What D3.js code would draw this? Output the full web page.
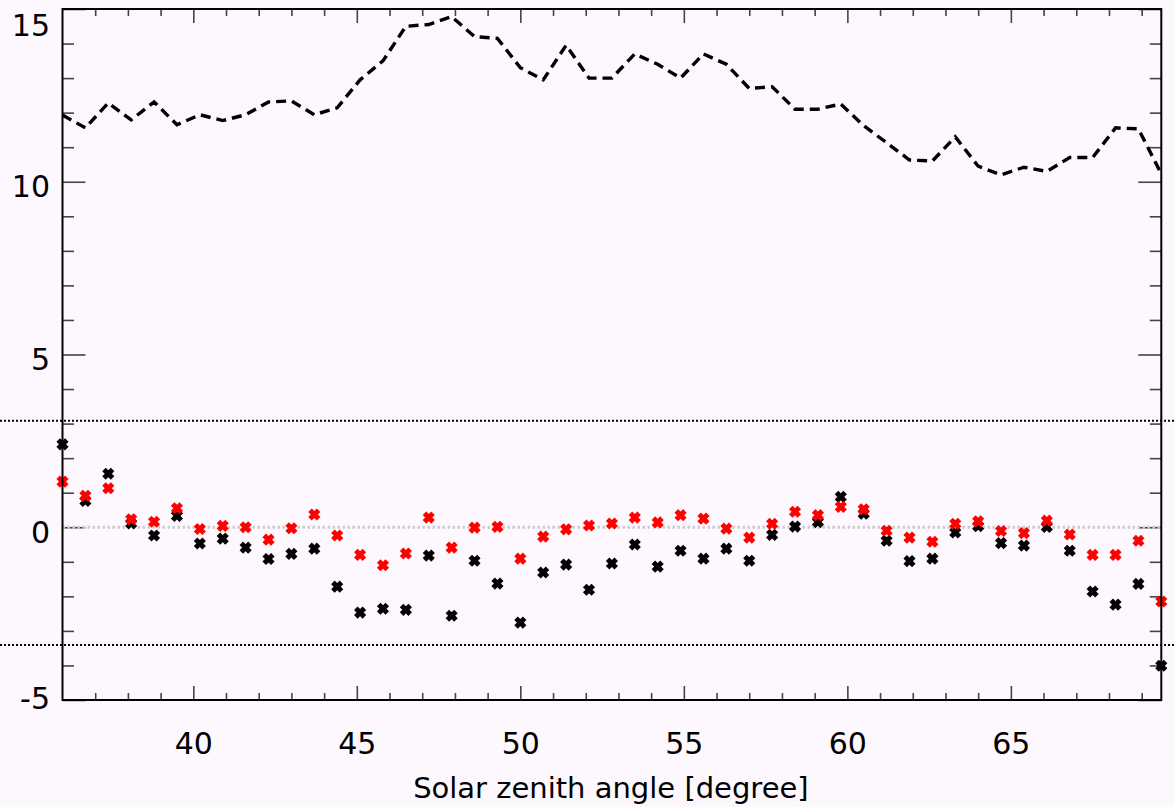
<!DOCTYPE html>
<html>
<head>
<meta charset="utf-8">
<script src="https://cdn.jsdelivr.net/npm/d3@7"></script>
<style>
  html, body { margin: 0; padding: 0; background: #fdf8fd; }
  svg { display: block; }
  text { font-family: "DejaVu Sans", "Liberation Sans", Arial, sans-serif; fill: #000; }
</style>
</head>
<body>
<svg id="chart" width="1175" height="807"></svg>
<script>
// Solar zenith angle grid (degrees)
const sza = [36.0, 36.7, 37.4, 38.1, 38.8, 39.5, 40.2, 40.9, 41.6, 42.3,
             43.0, 43.7, 44.4, 45.1, 45.8, 46.5, 47.2, 47.9, 48.6, 49.3,
             50.0, 50.7, 51.4, 52.1, 52.8, 53.5, 54.2, 54.9, 55.6, 56.3,
             57.0, 57.7, 58.4, 59.1, 59.8, 60.5, 61.2, 61.9, 62.6, 63.3,
             64.0, 64.7, 65.4, 66.1, 66.8, 67.5, 68.2, 68.9, 69.6];

// Dashed reference curve
const dashedSeries = [11.93, 11.56, 12.28, 11.79, 12.31, 11.65, 11.94, 11.77, 11.94, 12.31,
                      12.34, 11.94, 12.14, 12.95, 13.50, 14.50, 14.55, 14.78, 14.20, 14.15,
                      13.30, 12.95, 13.95, 13.00, 13.00, 13.70, 13.40, 13.00, 13.70, 13.40,
                      12.70, 12.75, 12.10, 12.10, 12.25, 11.62, 11.13, 10.63, 10.60, 11.30,
                      10.45, 10.20, 10.42, 10.30, 10.70, 10.70, 11.56, 11.53, 10.23];

// Black markers
const blackSeries = [2.40, 0.76, 1.55, 0.11, -0.24, 0.33, -0.47, -0.33, -0.59, -0.92,
                     -0.77, -0.62, -1.72, -2.47, -2.36, -2.39, -0.82, -2.56, -0.97, -1.63,
                     -2.76, -1.31, -1.08, -1.81, -1.05, -0.50, -1.14, -0.68, -0.91, -0.62,
                     -0.97, -0.22, 0.02, 0.15, 0.88, 0.39, -0.39, -0.98, -0.91, -0.15,
                     0.03, -0.46, -0.53, 0.01, -0.68, -1.86, -2.24, -1.64, -4.01];

// Red markers
const redSeries = [1.32, 0.91, 1.13, 0.23, 0.16, 0.55, -0.05, 0.04, 0.00, -0.36,
                   -0.03, 0.37, -0.24, -0.80, -1.10, -0.76, 0.28, -0.59, -0.01, 0.01,
                   -0.91, -0.27, -0.06, 0.05, 0.11, 0.28, 0.14, 0.35, 0.25, -0.04,
                   -0.30, 0.10, 0.45, 0.35, 0.59, 0.52, -0.10, -0.30, -0.42, 0.10,
                   0.17, -0.11, -0.17, 0.19, -0.21, -0.80, -0.80, -0.39, -2.15];

// Horizontal dotted threshold levels
const thresholds = [3.08, -3.41];

// Axis ticks
const xMajorTicks = [40, 45, 50, 55, 60, 65];
const xMinorTicks = [37, 38, 39, 41, 42, 43, 44, 46, 47, 48, 49, 51, 52, 53, 54,
                     56, 57, 58, 59, 61, 62, 63, 64, 66, 67, 68, 69];
const yMajorTicks = [-5, 0, 5, 10, 15];
const yMinorTicks = [-4, -3, -2, -1, 1, 2, 3, 4, 6, 7, 8, 9, 11, 12, 13, 14];
const xTitle = "Solar zenith angle [degree]";

const W = 1175, H = 807;
const plotL = 62.5, plotR = 1161.3, plotT = 9, plotB = 700;

const svg = d3.select("#chart");
svg.append("rect").attr("width", W).attr("height", H).attr("fill", "#fdf8fd");

const x = d3.scaleLinear().domain([36, 69.6]).range([plotL, plotR]);
const y = d3.scaleLinear().domain([-5, 15]).range([plotB, plotT]);

const tickColor = "#444";
const labelFmt = d => String(d);   // plain hyphen for negatives

function styleAxis(g) {
  g.select(".domain").remove();
  g.selectAll(".tick line").attr("stroke", tickColor).attr("stroke-width", 1.6);
}

// Bottom axis: major ticks with labels
svg.append("g")
  .attr("transform", `translate(0,${plotB})`)
  .call(d3.axisBottom(x).tickValues(xMajorTicks).tickSizeInner(-14).tickSizeOuter(0)
        .tickPadding(33).tickFormat(labelFmt))
  .call(styleAxis)
  .call(g => g.selectAll("text").attr("font-size", 30).attr("font-family", null));
svg.append("g")
  .attr("transform", `translate(0,${plotB})`)
  .call(d3.axisBottom(x).tickValues(xMinorTicks).tickSizeInner(-7).tickSizeOuter(0).tickFormat(""))
  .call(styleAxis);

// Top axis: ticks only
svg.append("g")
  .attr("transform", `translate(0,${plotT})`)
  .call(d3.axisTop(x).tickValues(xMajorTicks).tickSizeInner(-14).tickSizeOuter(0).tickFormat(""))
  .call(styleAxis);
svg.append("g")
  .attr("transform", `translate(0,${plotT})`)
  .call(d3.axisTop(x).tickValues(xMinorTicks).tickSizeInner(-7).tickSizeOuter(0).tickFormat(""))
  .call(styleAxis);

// Left axis: major ticks with labels
svg.append("g")
  .attr("transform", `translate(${plotL},0)`)
  .call(d3.axisLeft(y).tickValues(yMajorTicks).tickSizeInner(-23).tickSizeOuter(0)
        .tickPadding(12.5).tickFormat(labelFmt))
  .call(styleAxis)
  .call(g => g.selectAll("text")
    .attr("font-size", 30).attr("font-family", null)
    .attr("dy", null)
    .attr("y", d => {
      // keep end labels inside the figure
      const base = y(d) + 15;
      return Math.min(Math.max(base, 35), 708) - y(d);
    }));
svg.append("g")
  .attr("transform", `translate(${plotL},0)`)
  .call(d3.axisLeft(y).tickValues(yMinorTicks).tickSizeInner(-11.5).tickSizeOuter(0).tickFormat(""))
  .call(styleAxis);

// Right axis: ticks only
svg.append("g")
  .attr("transform", `translate(${plotR},0)`)
  .call(d3.axisRight(y).tickValues(yMajorTicks).tickSizeInner(-23).tickSizeOuter(0).tickFormat(""))
  .call(styleAxis);
svg.append("g")
  .attr("transform", `translate(${plotR},0)`)
  .call(d3.axisRight(y).tickValues(yMinorTicks).tickSizeInner(-11.5).tickSizeOuter(0).tickFormat(""))
  .call(styleAxis);

// Zero reference line (light grey dots)
svg.append("line")
  .attr("x1", plotL).attr("x2", plotR)
  .attr("y1", y(0)).attr("y2", y(0))
  .attr("stroke", "#cccccc").attr("stroke-width", 3)
  .attr("stroke-dasharray", "2.5,2.5");

// Threshold lines across the full width
svg.selectAll(".thr").data(thresholds).enter().append("line")
  .attr("class", "thr")
  .attr("x1", 0).attr("x2", W)
  .attr("y1", d => y(d)).attr("y2", d => y(d))
  .attr("stroke", "#000").attr("stroke-width", 2)
  .attr("stroke-dasharray", "2,2");

// Dashed curve
const line = d3.line().x((d, i) => x(sza[i])).y(d => y(d));
svg.append("path")
  .datum(dashedSeries)
  .attr("d", line)
  .attr("fill", "none")
  .attr("stroke", "#000")
  .attr("stroke-width", 3.4)
  .attr("stroke-dasharray", "10,6");

// X-shaped markers
const cross = "M-4.3,-4.3L4.3,4.3M-4.3,4.3L4.3,-4.3";
function drawMarkers(values, color, cls) {
  svg.selectAll("." + cls).data(values).enter().append("path")
    .attr("class", cls)
    .attr("transform", (d, i) => `translate(${x(sza[i])},${y(d)})`)
    .attr("d", cross)
    .attr("fill", "none")
    .attr("stroke", color)
    .attr("stroke-width", 5);
}
drawMarkers(blackSeries, "#000", "mk-black");
drawMarkers(redSeries, "#ff0000", "mk-red");

// Plot frame
svg.append("rect")
  .attr("x", plotL).attr("y", plotT)
  .attr("width", plotR - plotL).attr("height", plotB - plotT)
  .attr("fill", "none").attr("stroke", "#000").attr("stroke-width", 2);

// Axis title
svg.append("text")
  .attr("x", (plotL + plotR) / 2 - 1)
  .attr("y", 798)
  .attr("text-anchor", "middle")
  .attr("font-size", 29)
  .text(xTitle);
</script>
</body>
</html>
